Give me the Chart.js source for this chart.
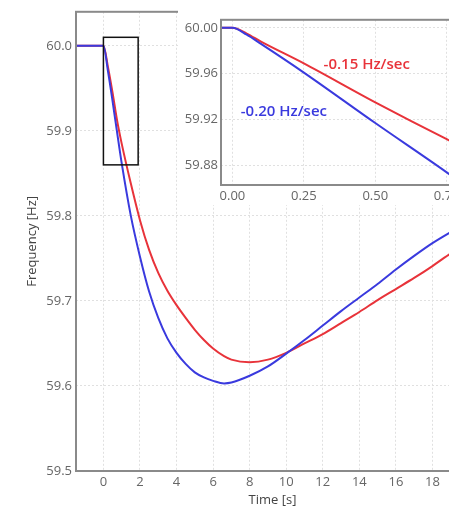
<!DOCTYPE html>
<html>
<head>
<meta charset="utf-8">
<script src="https://cdn.jsdelivr.net/npm/chart.js@4.4.1/dist/chart.umd.min.js"></script>
<style>
  html, body { margin: 0; padding: 0; background: #fff; overflow: hidden; }
  #wrap { position: relative; width: 449px; height: 508px; overflow: hidden; }
  #main { position: absolute; left: 0; top: 0; }
  #inset { position: absolute; left: 178px; top: 9px; background: #fff; }
</style>
</head>
<body>
<div id="wrap">
  <canvas id="main" width="480" height="508"></canvas>
  <canvas id="inset" width="300" height="196"></canvas>
</div>
<script>
// --- data -----------------------------------------------------------
const TIME = [-1.5, 0, 0.25, 0.5, 0.75, 1, 1.5, 2, 2.5, 3, 3.5, 4, 4.5, 5, 5.5, 6, 6.6, 7, 8, 9, 10, 11, 12, 13, 14, 15, 16, 17, 18, 19, 20];
const FREQ_020 = [60, 60, 59.97, 59.935, 59.898, 59.862, 59.800, 59.752, 59.711, 59.680, 59.656, 59.639, 59.626, 59.616, 59.610, 59.606, 59.603, 59.604, 59.612, 59.623, 59.638, 59.654, 59.671, 59.688, 59.704, 59.720, 59.737, 59.753, 59.768, 59.781, 59.793];
const FREQ_015 = [60, 60, 59.975, 59.945, 59.912, 59.885, 59.838, 59.795, 59.760, 59.733, 59.712, 59.695, 59.680, 59.666, 59.654, 59.644, 59.635, 59.631, 59.628, 59.631, 59.639, 59.650, 59.661, 59.674, 59.687, 59.701, 59.714, 59.727, 59.741, 59.756, 59.770];
const X_TICKS = [0, 2, 4, 6, 8, 10, 12, 14, 16, 18, 20];
const Y_TICKS = [59.5, 59.6, 59.7, 59.8, 59.9, 60.0];

const INSET_TIME = [-0.04, 0, 0.05, 0.1, 0.25, 0.5, 0.75, 0.8];
const INSET_020 = [60, 60, 59.994, 59.986, 59.961, 59.917, 59.874, 59.865];
const INSET_015 = [60, 60, 59.995, 59.988, 59.969, 59.935, 59.903, 59.897];
const INSET_X_TICKS = [0, 0.25, 0.5, 0.75];
const INSET_Y_TICKS = [59.88, 59.92, 59.96, 60.00];

const ZOOM_T = [0, 1.9];
const ZOOM_F = [59.86, 60.01];
const SERIES_LABELS = ['-0.20 Hz/sec', '-0.15 Hz/sec'];

// --- styles ---------------------------------------------------------
const BLUE = '#3a3ade';
const RED = '#e8333a';
const GRID = '#e0e0e0';
const FRAME = '#8a8a8a';
const TICK_FONT = { family: 'Open Sans', size: 13 };
const TITLE_FONT = { family: 'Open Sans', size: 13 };

const pts = (xs, ys) => xs.map((x, i) => ({ x, y: ys[i] }));

const lineDs = (data, color) => ({
  data,
  borderColor: color,
  borderWidth: 2,
  pointRadius: 0,
  fill: false,
  cubicInterpolationMode: 'monotone',
});

const framePlugin = {
  id: 'frame',
  afterDraw(chart) {
    const { ctx, chartArea: a } = chart;
    ctx.save();
    ctx.strokeStyle = FRAME;
    ctx.lineWidth = 2;
    ctx.strokeRect(a.left, a.top, a.right - a.left, a.bottom - a.top);
    ctx.restore();
  }
};

const zoomBoxPlugin = {
  id: 'zoomBox',
  afterDatasetsDraw(chart) {
    const { ctx, scales: { x, y } } = chart;
    const x0 = x.getPixelForValue(ZOOM_T[0]), x1 = x.getPixelForValue(ZOOM_T[1]);
    const y0 = y.getPixelForValue(ZOOM_F[1]), y1 = y.getPixelForValue(ZOOM_F[0]);
    ctx.save();
    ctx.strokeStyle = '#111';
    ctx.lineWidth = 1.5;
    ctx.strokeRect(x0, y0, x1 - x0, y1 - y0);
    ctx.restore();
  }
};

const seriesLabelPlugin = {
  id: 'seriesLabels',
  afterDatasetsDraw(chart) {
    const { ctx, scales: { x, y } } = chart;
    ctx.save();
    ctx.font = '600 15px "Open Sans"';
    ctx.textAlign = 'center';
    ctx.textBaseline = 'middle';
    ctx.fillStyle = BLUE;
    ctx.fillText(SERIES_LABELS[0], x.getPixelForValue(0.18), y.getPixelForValue(59.927));
    ctx.fillStyle = RED;
    ctx.fillText(SERIES_LABELS[1], x.getPixelForValue(0.47), y.getPixelForValue(59.968));
    ctx.restore();
  }
};

// --- main chart -----------------------------------------------------
new Chart(document.getElementById('main'), {
  type: 'line',
  data: {
    datasets: [
      lineDs(pts(TIME, FREQ_020), BLUE),
      lineDs(pts(TIME, FREQ_015), RED),
    ]
  },
  options: {
    responsive: false,
    animation: false,
    events: [],
    layout: { padding: { top: 7, right: 11, left: 0, bottom: 0 } },
    plugins: { legend: { display: false }, tooltip: { enabled: false } },
    scales: {
      x: {
        type: 'linear',
        min: -1.5, max: 20,
        afterBuildTicks: s => { s.ticks = X_TICKS.map(v => ({ value: v })); },
        afterFit: s => { s.height = 37; },
        grid: { color: GRID, drawTicks: false },
        border: { display: false, dash: [2, 2] },
        ticks: { color: '#666', font: TICK_FONT, padding: 3, maxRotation: 0, autoSkip: false },
        title: { display: true, text: 'Time [s]', color: '#444', font: TITLE_FONT, padding: 0 }
      },
      y: {
        min: 59.5, max: 60.04,
        afterBuildTicks: s => { s.ticks = Y_TICKS.map(v => ({ value: v })); },
        afterFit: s => { s.width = 76; },
        grid: { color: GRID, drawTicks: false },
        border: { display: false, dash: [2, 2] },
        ticks: { color: '#666', font: TICK_FONT, padding: 4, callback: v => v.toFixed(1) },
        title: { display: true, text: 'Frequency [Hz]', color: '#444', font: TITLE_FONT, padding: { top: 24 } }
      }
    }
  },
  plugins: [framePlugin, zoomBoxPlugin]
});

// --- inset chart ----------------------------------------------------
new Chart(document.getElementById('inset'), {
  type: 'line',
  data: {
    datasets: [
      lineDs(pts(INSET_TIME, INSET_020), BLUE),
      lineDs(pts(INSET_TIME, INSET_015), RED),
    ]
  },
  options: {
    responsive: false,
    animation: false,
    events: [],
    layout: { padding: { top: 8, right: 17, left: 0, bottom: 0 } },
    plugins: { legend: { display: false }, tooltip: { enabled: false } },
    scales: {
      x: {
        type: 'linear',
        min: -0.04, max: 0.8,
        afterBuildTicks: s => { s.ticks = INSET_X_TICKS.map(v => ({ value: v })); },
        afterFit: s => { s.height = 20; },
        grid: { color: GRID, drawTicks: false },
        border: { display: false, dash: [2, 2] },
        ticks: { color: '#666', font: TICK_FONT, padding: 3, maxRotation: 0, autoSkip: false, callback: v => v.toFixed(2) }
      },
      y: {
        min: 59.863, max: 60.007,
        afterBuildTicks: s => { s.ticks = INSET_Y_TICKS.map(v => ({ value: v })); },
        afterFit: s => { s.width = 43; },
        grid: { color: GRID, drawTicks: false },
        border: { display: false, dash: [2, 2] },
        ticks: { color: '#666', font: TICK_FONT, padding: 3, callback: v => v.toFixed(2) }
      }
    }
  },
  plugins: [framePlugin, seriesLabelPlugin]
});
</script>
</body>
</html>
